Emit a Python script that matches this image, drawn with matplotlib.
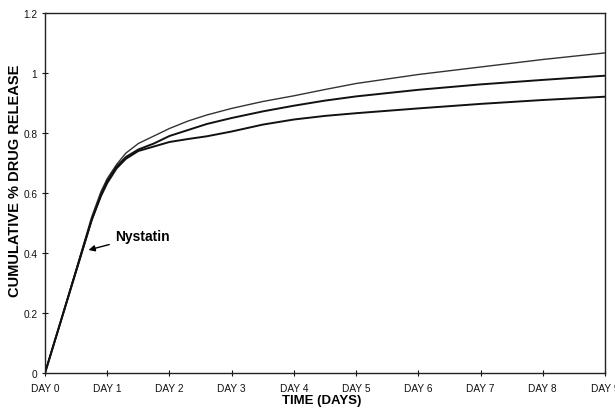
import matplotlib
matplotlib.use("Agg")
import matplotlib.pyplot as plt

plt.rcParams['font.family'] = ['Liberation Sans', 'DejaVu Sans']

days = [0, 0.25, 0.5, 0.75, 0.9, 1.0, 1.15, 1.3, 1.5, 1.75, 2.0, 2.3, 2.6, 3.0,
        3.5, 4.0, 4.5, 5.0, 5.5, 6.0, 7.0, 8.0, 9.0]
series_top = [0, 0.17, 0.345, 0.52, 0.605, 0.648, 0.695, 0.733, 0.765, 0.79, 0.815,
              0.84, 0.86, 0.882, 0.905, 0.924, 0.945, 0.965, 0.98, 0.995, 1.02,
              1.045, 1.067]
series_mid = [0, 0.17, 0.34, 0.51, 0.595, 0.64, 0.688, 0.72, 0.745, 0.765, 0.79,
              0.81, 0.83, 0.85, 0.872, 0.891, 0.908, 0.922, 0.933, 0.944, 0.962,
              0.977, 0.991]
series_low = [0, 0.17, 0.34, 0.51, 0.59, 0.633, 0.682, 0.714, 0.74, 0.755, 0.77,
              0.78, 0.789, 0.805, 0.828, 0.845, 0.857, 0.866, 0.874, 0.882, 0.897,
              0.91, 0.921]

x_ticks = list(range(10))
x_labels = [f"DAY {d}" for d in x_ticks]
y_ticks = [0, 0.2, 0.4, 0.6, 0.8, 1.0, 1.2]
y_labels = ["0", "0.2", "0.4", "0.6", "0.8", "1", "1.2"]

fig = plt.figure(figsize=(6.15, 4.10), dpi=100)
ax = fig.add_axes([45/615, 1-374/410, 560/615, 360/410])

ax.plot(days, series_top, color='#333333', lw=1.0)
ax.plot(days, series_mid, color='#111111', lw=1.4)
ax.plot(days, series_low, color='#111111', lw=1.4)

ax.set_xlim(0, 9)
ax.set_ylim(0, 1.2)
ax.set_xticks(x_ticks)
ax.set_xticklabels(x_labels)
ax.set_yticks(y_ticks)
ax.set_yticklabels(y_labels)
ax.tick_params(axis='both', direction='inout', length=5, width=0.8,
               labelsize=7.3, colors='#111111')
ax.tick_params(axis='x', pad=5)
ax.tick_params(axis='y', pad=3)
for s in ax.spines.values():
    s.set_linewidth(1.0)
    s.set_color('#222222')

fig.text(322/615, 1-401/410, "TIME (DAYS)", ha='center', va='center',
         fontsize=9.5, fontweight='bold')
fig.text(15/615, 1-181/410, "CUMULATIVE % DRUG RELEASE", ha='center', va='center',
         rotation=90, fontsize=10.5, fontweight='bold')

ax.annotate("Nystatin", xy=(0.70, 0.41), xytext=(1.12, 0.457),
            fontsize=10, fontweight='bold', va='center', ha='left',
            arrowprops=dict(arrowstyle='-|>', color='black', lw=1.0,
                            mutation_scale=9, shrinkA=2, shrinkB=0))

fig.savefig("out.png", dpi=100)
